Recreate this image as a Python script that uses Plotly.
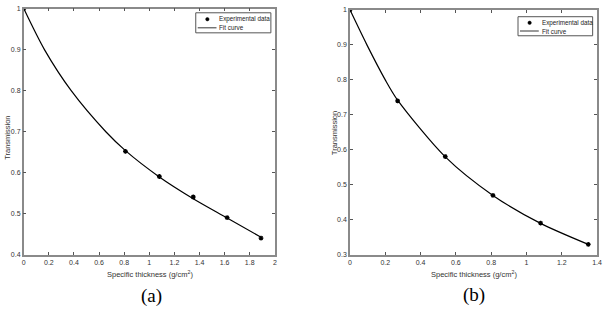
import plotly.graph_objects as go

# Panel (a)
a_exp_x = [0, 0.81, 1.08, 1.35, 1.62, 1.89]
a_exp_y = [1.0, 0.652, 0.591, 0.541, 0.491, 0.441]
a_fit_x = [0, 0.165, 0.378, 0.654, 0.81, 1.08, 1.35, 1.62, 1.89]
a_fit_y = [1.0, 0.9, 0.8, 0.7, 0.654, 0.59, 0.537, 0.49, 0.443]

# Panel (b)
b_exp_x = [0, 0.27, 0.54, 0.81, 1.08, 1.35]
b_exp_y = [1.0, 0.74, 0.581, 0.47, 0.391, 0.33]
b_fit_x = [0, 0.096, 0.2, 0.27, 0.54, 0.81, 1.08, 1.35]
b_fit_y = [1.0, 0.9, 0.8, 0.742, 0.58, 0.47, 0.39, 0.33]

a_xticks = [0, 0.2, 0.4, 0.6, 0.8, 1, 1.2, 1.4, 1.6, 1.8, 2]
a_yticks = [0.4, 0.5, 0.6, 0.7, 0.8, 0.9, 1]
b_xticks = [0, 0.2, 0.4, 0.6, 0.8, 1, 1.2, 1.4]
b_yticks = [0.3, 0.4, 0.5, 0.6, 0.7, 0.8, 0.9, 1]

legend_labels = ["Experimental data", "Fit curve"]
x_title = "Specific thickness (g/cm<sup>2</sup>)"
y_title = "Transmission"

W, H = 610, 310
def px(x): return x / W
def py(y): return 1 - y / H

fig = go.Figure()

marker = dict(symbol="asterisk-open", size=4, color="black", line=dict(color="black", width=1.3))
fitline = dict(color="black", width=1.2, shape="spline", smoothing=0.8)

fig.add_trace(go.Scatter(x=a_fit_x, y=a_fit_y, mode="lines", line=fitline,
                         name=legend_labels[1], xaxis="x", yaxis="y", showlegend=False))
fig.add_trace(go.Scatter(x=a_exp_x, y=a_exp_y, mode="markers", marker=marker,
                         name=legend_labels[0], xaxis="x", yaxis="y", showlegend=False))
fig.add_trace(go.Scatter(x=b_fit_x, y=b_fit_y, mode="lines", line=fitline,
                         name=legend_labels[1], xaxis="x2", yaxis="y2", showlegend=False))
fig.add_trace(go.Scatter(x=b_exp_x, y=b_exp_y, mode="markers", marker=marker,
                         name=legend_labels[0], xaxis="x2", yaxis="y2", showlegend=False))

axis_common = dict(showline=True, linecolor="#8a8a8a", linewidth=1.5, mirror="ticks",
                   ticks="inside", ticklen=3, tickcolor="#555", tickwidth=1,
                   showgrid=False, zeroline=False, ticklabeloverflow="allow",
                   tickfont=dict(family="Liberation Sans, Arial", size=7, color="#333"))
title_font = dict(family="Liberation Sans, Arial", size=7.5, color="#333")
leg_font = dict(family="Liberation Sans, Arial", size=6.3, color="#222")

shapes = []
annotations = []

def add_legend(x0, y0, x1, y1):
    shapes.append(dict(type="rect", xref="paper", yref="paper",
                       x0=px(x0), x1=px(x1), y0=py(y1), y1=py(y0),
                       line=dict(color="#555", width=1), fillcolor="white"))
    r1 = y0 + (y1 - y0) * 0.32
    r2 = y0 + (y1 - y0) * 0.75
    shapes.append(dict(type="circle", xref="paper", yref="paper",
                       x0=px(x0 + 10), x1=px(x0 + 13.5), y0=py(r1 + 1.75), y1=py(r1 - 1.75),
                       line=dict(color="black", width=0.5), fillcolor="black"))
    shapes.append(dict(type="line", xref="paper", yref="paper",
                       x0=px(x0 + 2), x1=px(x0 + 21), y0=py(r2), y1=py(r2),
                       line=dict(color="black", width=0.8)))
    annotations.append(dict(text=legend_labels[0], x=px(x0 + 22), y=py(r1), xref="paper", yref="paper",
                            xanchor="left", yanchor="middle", showarrow=False, font=leg_font))
    annotations.append(dict(text=legend_labels[1], x=px(x0 + 22), y=py(r2), xref="paper", yref="paper",
                            xanchor="left", yanchor="middle", showarrow=False, font=leg_font))

add_legend(196, 9, 272, 29.5)
add_legend(522, 13, 597.5, 32.5)

def add_text(text, x, y, font, angle=0):
    annotations.append(dict(text=text, x=px(x), y=py(y), xref="paper", yref="paper",
                            xanchor="center", yanchor="middle", showarrow=False,
                            textangle=angle, font=font))

add_text(x_title, 150, 276, title_font)
add_text(x_title, 477, 276, title_font)
add_text(y_title, 6, 137, title_font, -90)
add_text(y_title, 336, 132, title_font, -90)

panel_font = dict(family="Liberation Serif, Times New Roman", size=19, color="black")
add_text("(a)", 151, 299, panel_font)
add_text("(b)", 477, 298, panel_font)

fig.update_layout(
    width=W, height=H,
    margin=dict(l=0, r=0, t=0, b=0),
    paper_bgcolor="white", plot_bgcolor="white",
    showlegend=False,
    xaxis=dict(axis_common, domain=[px(22), px(276)], range=[0, 2], tickvals=a_xticks,
               ticktext=[f"{v:g}" for v in a_xticks], anchor="y"),
    yaxis=dict(axis_common, domain=[py(256.7), py(4.7)], range=[0.4, 1], tickvals=a_yticks,
               ticktext=[f"{v:g}" for v in a_yticks], anchor="x"),
    xaxis2=dict(axis_common, domain=[px(352), px(602)], range=[0, 1.4], tickvals=b_xticks,
                ticktext=[f"{v:g}" for v in b_xticks], anchor="y2"),
    yaxis2=dict(axis_common, domain=[py(256.7), py(6)], range=[0.3, 1], tickvals=b_yticks,
                ticktext=[f"{v:g}" for v in b_yticks], anchor="x2"),
    shapes=shapes,
    annotations=annotations,
)

fig.write_html("out.html", config={"displayModeBar": False},
               post_script="document.body.style.margin='0';document.body.style.padding='0';document.body.style.overflow='hidden';")
